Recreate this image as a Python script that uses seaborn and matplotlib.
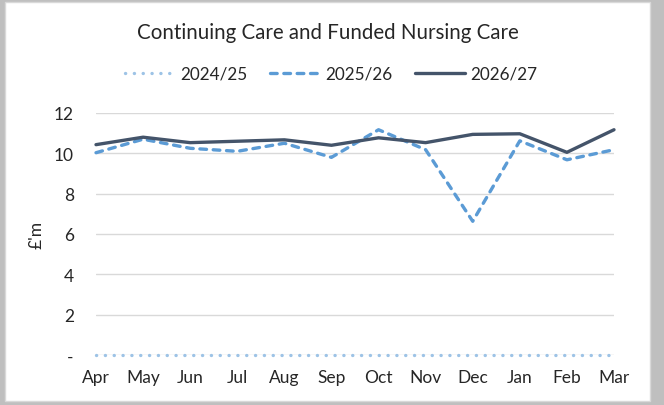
import pandas as pd
import matplotlib.pyplot as plt
import seaborn as sns
from matplotlib.patches import Rectangle

months = ['Apr', 'May', 'Jun', 'Jul', 'Aug', 'Sep', 'Oct', 'Nov', 'Dec', 'Jan', 'Feb', 'Mar']
y2425 = [0, 0, 0, 0, 0, 0, 0, 0, 0, 0, 0, 0]
y2526 = [10.03, 10.70, 10.25, 10.10, 10.50, 9.80, 11.17, 10.18, 6.63, 10.62, 9.68, 10.18]
y2627 = [10.43, 10.80, 10.53, 10.60, 10.67, 10.40, 10.77, 10.53, 10.94, 10.97, 10.05, 11.17]
series = ['2024/25', '2025/26', '2026/27']
colors = ['#9DC3E6', '#5B9BD5', '#44546A']

df = pd.DataFrame({
    'Month': months * 3,
    'Value': y2425 + y2526 + y2627,
    'Year': [s for s in series for _ in months],
})
df['x'] = list(range(len(months))) * 3

sns.set_style('white')
plt.rcParams['font.family'] = ['Lato', 'DejaVu Sans']

W, H = 664, 406
fig = plt.figure(figsize=(W / 100, H / 100), dpi=100)
fig.patch.set_facecolor('#BFBFBF')
fig.add_artist(Rectangle((5 / W, 4 / H), 645 / W, 399 / H, transform=fig.transFigure,
                         facecolor='white', edgecolor='#D9D9D9', linewidth=1, zorder=0))

ax = fig.add_axes([96 / W, 1 - 356 / H, 518 / W, 242 / H])
ax.set_facecolor('none')

sns.lineplot(data=df, x='x', y='Value', hue='Year', palette=colors, ax=ax,
             linewidth=2.4, legend=False, sort=False)

styles = [(0, (0.05, 2.6)), (0, (2.0, 2.0)), '-']
for line, ls in zip(ax.get_lines(), styles):
    line.set_linestyle(ls)
    if ls != '-':
        line.set_dash_capstyle('round')
    line.set_zorder(3)
    line.set_clip_on(False)

ax.set_xlim(0, len(months) - 1)
ax.set_ylim(0, 12)
ax.set_xticks(range(len(months)))
ax.set_xticklabels(months)
ax.set_yticks([0, 2, 4, 6, 8, 10, 12])
ax.set_yticklabels(['-', '2', '4', '6', '8', '10', '12'])
ax.tick_params(axis='x', length=0, pad=10, labelsize=12.5)
ax.tick_params(axis='y', length=0, pad=16, labelsize=12.5)
ax.grid(axis='y', color='#D9D9D9', linewidth=1)
ax.set_axisbelow(True)
for s in ax.spines.values():
    s.set_visible(False)
ax.set_xlabel('')
ax.set_ylabel("£'m", fontsize=12.5)
ax.yaxis.set_label_coords(-0.1, 0.5)

handles = [plt.Line2D([], [], color=c, linewidth=2.4) for c in colors]
for h, ls in zip(handles, styles):
    h.set_linestyle(ls)
    if ls != '-':
        h.set_dash_capstyle('round')
fig.legend(handles, series, loc='center', bbox_to_anchor=(0.499, 1 - 75 / H), ncol=3,
           frameon=False, fontsize=12.3, handlelength=2.9, handletextpad=0.35,
           columnspacing=1.3)

fig.text(0.494, 1 - 33 / H, 'Continuing Care and Funded Nursing Care',
         ha='center', va='center', fontsize=14.8)

fig.savefig('out.png', dpi=100, facecolor=fig.get_facecolor())
